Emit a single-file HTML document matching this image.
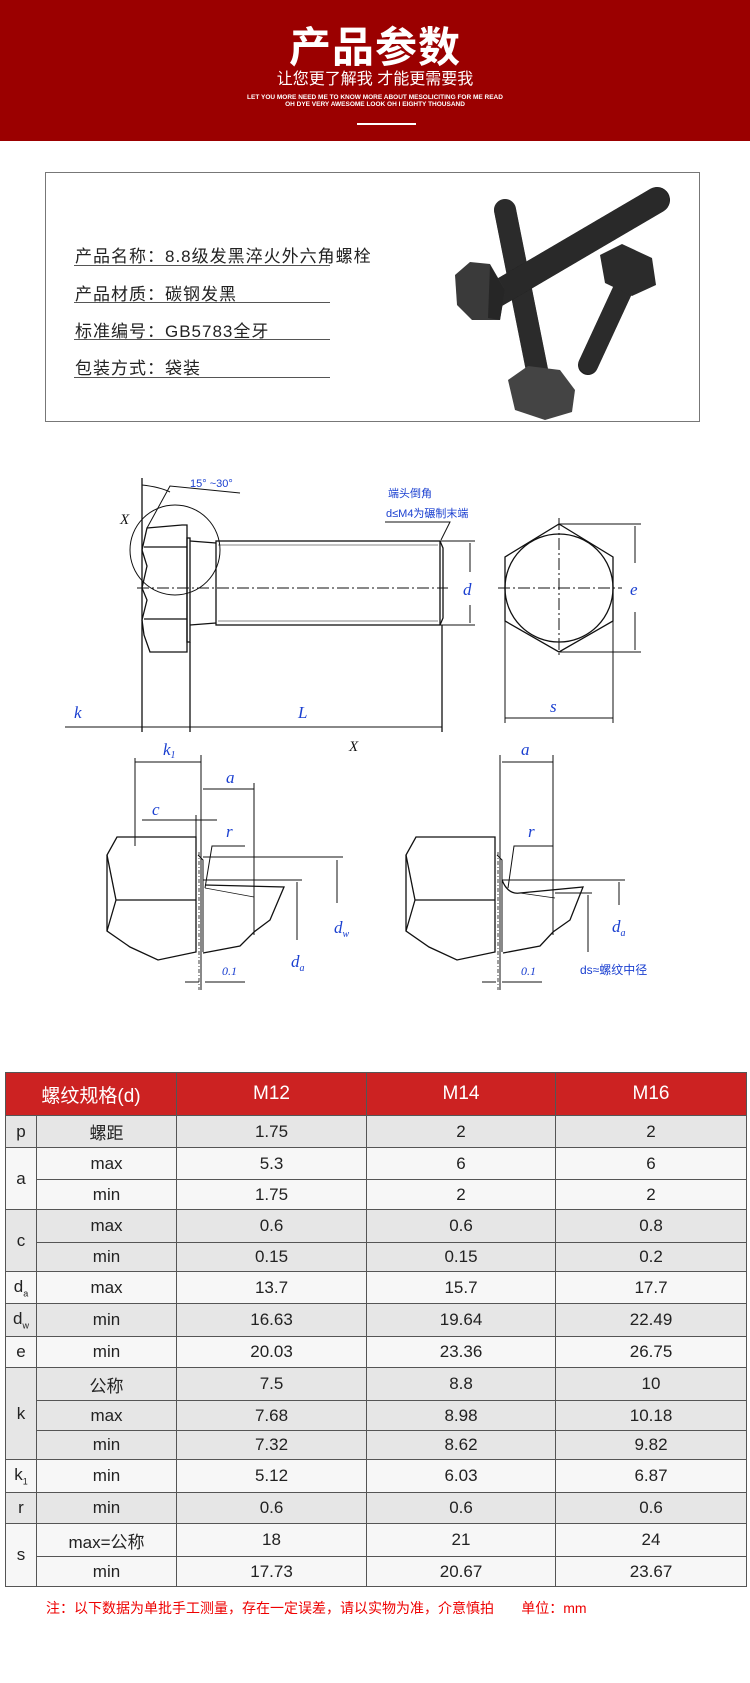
<!DOCTYPE html>
<html><head><meta charset="utf-8">
<style>
*{margin:0;padding:0;box-sizing:border-box}
body{width:750px;height:1683px;background:#fff;position:relative;overflow:hidden;font-family:"Liberation Sans","Noto Sans CJK SC",sans-serif}
.hdr{position:absolute;left:0;top:0;width:750px;height:141px;background:#9b0000;color:#fff;text-align:center}
.t1{position:absolute;left:0;width:750px;top:14px;font-size:42px;font-weight:bold;letter-spacing:1px}
.t2{position:absolute;left:0;width:750px;top:71px;font-size:16px;line-height:18px}
.t3{position:absolute;left:0;width:750px;top:94px;font-size:6.5px;font-weight:bold;line-height:7px}
.bar{position:absolute;left:357px;top:123px;width:59px;height:2px;background:#fff}
.box{position:absolute;left:45px;top:172px;width:655px;height:250px;border:1px solid #777}
.ln{position:absolute;left:75px;font-size:17px;color:#222;letter-spacing:1px}
.ul{position:absolute;left:74px;width:256px;height:1px;background:#555}
table{position:absolute;left:5px;top:1072px;width:741px;border-collapse:collapse;table-layout:fixed;font-family:"Liberation Sans","Noto Sans CJK SC",sans-serif;font-size:17px;color:#222}
td{border:1px solid #555;text-align:center;padding:0;overflow:hidden}
tr.h td{background:#cc2222;color:#fff;font-size:19px}
.g td{background:#e6e6e6}
.w td{background:#f7f7f7}
sub{font-size:9px}
.note{position:absolute;left:46px;top:1598px;font-size:14px;color:#e00}
</style></head><body>
<div class="hdr">
<div class="t1">产品参数</div>
<div class="t2">让您更了解我 才能更需要我</div>
<div class="t3">LET YOU MORE NEED ME TO KNOW MORE ABOUT MESOLICITING FOR ME READ<br>OH DYE VERY AWESOME LOOK OH I EIGHTY THOUSAND</div>
<div class="bar"></div>
</div>
<div class="box"></div>
<div class="ln" style="top:242px">产品名称：8.8级发黑淬火外六角螺栓</div>
<div class="ul" style="top:265px"></div>
<div class="ln" style="top:280px">产品材质：碳钢发黑</div>
<div class="ul" style="top:302px"></div>
<div class="ln" style="top:317px">标准编号：GB5783全牙</div>
<div class="ul" style="top:339px"></div>
<div class="ln" style="top:354px">包装方式：袋装</div>
<div class="ul" style="top:377px"></div>

<svg style="position:absolute;left:0;top:0" width="750" height="1060">
<!-- bolt photo -->
<g stroke-linecap="round" fill="none">
<line x1="505" y1="210" x2="538" y2="375" stroke="#1e1e1e" stroke-width="22"/>
<line x1="505" y1="210" x2="538" y2="375" stroke="#333" stroke-width="22" stroke-dasharray="2,3" opacity=".6"/>
<line x1="625" y1="285" x2="588" y2="365" stroke="#1e1e1e" stroke-width="20"/>
<line x1="625" y1="285" x2="588" y2="365" stroke="#333" stroke-width="20" stroke-dasharray="2,3" opacity=".6"/>
<line x1="495" y1="295" x2="657" y2="200" stroke="#1a1a1a" stroke-width="26"/>
<line x1="495" y1="295" x2="657" y2="200" stroke="#333" stroke-width="26" stroke-dasharray="2,3" opacity=".6"/>
</g>
<polygon points="600,255 622,244 652,258 656,285 632,296 605,283" fill="#2b2b2b"/>
<polygon points="455,275 470,262 490,264 505,290 500,320 472,320 457,305" fill="#3a3a3a"/>
<polygon points="490,265 505,290 500,320 488,318" fill="#262626"/>
<polygon points="508,380 528,366 560,370 575,390 572,412 545,420 515,410" fill="#444"/>
<g fill="none" stroke="#111" stroke-width="1.3">
<!-- main view -->
<line x1="142" y1="478" x2="142" y2="732"/>
<path d="M147,528 L182,525 L187,525 L187,652 L150,652 L144,635 L142,620 L147,600 L142,588 L147,566 L142,550 L147,528Z"/>
<line x1="144" y1="547" x2="187" y2="547"/><line x1="144" y1="619" x2="187" y2="619"/>
<rect x="187" y="538" width="3" height="104"/>
<path d="M190,541 L216,543 M190,625 L216,623"/>
<rect x="216" y="541" width="224" height="84"/>
<line x1="218" y1="545" x2="438" y2="545" stroke-width=".6"/>
<line x1="218" y1="621" x2="438" y2="621" stroke-width=".6"/>
<path d="M440,541 L443,548 L443,618 L440,625"/>
<circle cx="175" cy="550" r="45" stroke-width="1"/>
<path d="M142,485 Q160,487 170,492" stroke-width="1"/>
<path d="M147,528 L170,486 L240,493" stroke-width="1"/>
<line x1="137" y1="588" x2="448" y2="588" stroke-dasharray="12,3,2,3" stroke-width="1"/>
<line x1="65" y1="727" x2="442" y2="727" stroke-width="1"/>
<line x1="190" y1="642" x2="190" y2="732"/>
<line x1="442" y1="625" x2="442" y2="732"/>
<path d="M385,522 L450,522 L441,540" stroke-width="1"/>
<path d="M440,541 L475,541 M440,625 L475,625 M470,543 L470,572 M470,605 L470,623" stroke-width="1"/>
<!-- end view -->
<polygon points="559,524 613,557 613,621 559,652 505,621 505,557"/>
<circle cx="559" cy="588" r="54"/>
<line x1="498" y1="588" x2="622" y2="588" stroke-dasharray="12,3,2,3" stroke-width="1"/>
<line x1="559" y1="518" x2="559" y2="658" stroke-dasharray="12,3,2,3" stroke-width="1"/>
<path d="M559,524 L641,524 M559,652 L641,652 M635,526 L635,563 M635,612 L635,650 M505,621 L505,723 M613,621 L613,723 M505,718 L613,718" stroke-width="1"/>
<!-- detail 1 -->
<path d="M135,758 L135,846 M201,755 L201,990 M135,762 L201,762 M203,789 L254,789 M254,783 L254,935 M142,820 L217,820 M196,815 L196,837" stroke-width="1"/>
<path d="M117,837 L196,837 L196,952 L158,960 L130,947 L107,931 L107,855 Z"/>
<path d="M107,855 L116,900 L196,900 M116,900 L107,931" />
<line x1="199" y1="852" x2="199" y2="990" stroke-dasharray="4,2,1,2" stroke-width=".8"/>
<path d="M198,855 L203,860 L203,952 M203,857 L343,857 M337,903 L337,860 M203,880 L302,880 M297,940 L297,882 M205,888 L212,846 L245,846" stroke-width="1"/>
<path d="M205,885 L284,887 L270,920 L254,932 L240,946 L203,953"/>
<line x1="205" y1="888" x2="254" y2="897" stroke-width=".7"/>
<path d="M185,982 L199,982 M205,982 L245,982" stroke-width="1"/>
<!-- detail 2 -->
<path d="M500,755 L500,990 M553,755 L553,935 M502,762 L553,762 M520,846 L553,846 L514,846 L508,888" stroke-width="1"/>
<path d="M416,837 L495,837 L495,952 L457,960 L429,947 L406,931 L406,855 Z"/>
<path d="M406,855 L415,900 L495,900 M415,900 L406,931"/>
<line x1="498" y1="852" x2="498" y2="990" stroke-dasharray="4,2,1,2" stroke-width=".8"/>
<path d="M497,855 L502,860 L502,952 M502,880 L625,880 M619,905 L619,882 M555,893 L592,893 M588,952 L588,895" stroke-width="1"/>
<path d="M502,880 Q508,895 520,893 L583,887 L570,920 L553,932 L540,946 L503,953"/>
<line x1="520" y1="893" x2="555" y2="898" stroke-width=".7"/>
<path d="M482,982 L496,982 M502,982 L542,982" stroke-width="1"/>
</g>
<g fill="#1a3fd0" font-family="Liberation Serif,serif" font-style="italic" font-size="17">
<text x="74" y="718">k</text><text x="298" y="718">L</text>
<text x="463" y="595">d</text><text x="630" y="595">e</text><text x="550" y="712">s</text>
<text x="163" y="755">k<tspan font-size="10" dy="3">1</tspan></text>
<text x="226" y="783">a</text><text x="152" y="815">c</text><text x="226" y="837">r</text>
<text x="334" y="933">d<tspan font-size="10" dy="4">w</tspan></text>
<text x="291" y="967">d<tspan font-size="10" dy="4">a</tspan></text>
<text x="521" y="755">a</text><text x="528" y="837">r</text>
<text x="612" y="932">d<tspan font-size="10" dy="4">a</tspan></text>
<text x="222" y="975" font-size="12">0.1</text><text x="521" y="975" font-size="12">0.1</text>
</g>
<g fill="#111" font-family="Liberation Serif,serif" font-style="italic" font-size="15">
<text x="120" y="524">X</text><text x="349" y="751">X</text>
</g>
<g fill="#1a3fd0" font-family="Liberation Sans,Noto Sans CJK SC,sans-serif" font-size="11">
<text x="190" y="487">15° ~30°</text>
<text x="388" y="497">端头倒角</text>
<text x="386" y="517">d≤M4为碾制末端</text>
<text x="580" y="974" font-size="12">ds≈螺纹中径</text>
</g>
</svg>

<table>
<colgroup><col style="width:31px"><col style="width:140px"><col style="width:190px"><col style="width:189px"><col style="width:191px"></colgroup>
<tr class="h" style="height:43px"><td colspan="2">螺纹规格(d)</td><td>M12</td><td>M14</td><td>M16</td></tr>
<tr class="g" style="height:32px"><td>p</td><td>螺距</td><td>1.75</td><td>2</td><td>2</td></tr>
<tr class="w" style="height:32px"><td rowspan="2">a</td><td>max</td><td>5.3</td><td>6</td><td>6</td></tr>
<tr class="w" style="height:30px"><td>min</td><td>1.75</td><td>2</td><td>2</td></tr>
<tr class="g" style="height:33px"><td rowspan="2">c</td><td>max</td><td>0.6</td><td>0.6</td><td>0.8</td></tr>
<tr class="g" style="height:29px"><td>min</td><td>0.15</td><td>0.15</td><td>0.2</td></tr>
<tr class="w" style="height:32px"><td>d<sub>a</sub></td><td>max</td><td>13.7</td><td>15.7</td><td>17.7</td></tr>
<tr class="g" style="height:33px"><td>d<sub>w</sub></td><td>min</td><td>16.63</td><td>19.64</td><td>22.49</td></tr>
<tr class="w" style="height:31px"><td>e</td><td>min</td><td>20.03</td><td>23.36</td><td>26.75</td></tr>
<tr class="g" style="height:33px"><td rowspan="3">k</td><td>公称</td><td>7.5</td><td>8.8</td><td>10</td></tr>
<tr class="g" style="height:30px"><td>max</td><td>7.68</td><td>8.98</td><td>10.18</td></tr>
<tr class="g" style="height:29px"><td>min</td><td>7.32</td><td>8.62</td><td>9.82</td></tr>
<tr class="w" style="height:33px"><td>k<sub>1</sub></td><td>min</td><td>5.12</td><td>6.03</td><td>6.87</td></tr>
<tr class="g" style="height:31px"><td>r</td><td>min</td><td>0.6</td><td>0.6</td><td>0.6</td></tr>
<tr class="w" style="height:33px"><td rowspan="2">s</td><td>max=公称</td><td>18</td><td>21</td><td>24</td></tr>
<tr class="w" style="height:30px"><td>min</td><td>17.73</td><td>20.67</td><td>23.67</td></tr>
</table>
<div class="note">注：以下数据为单批手工测量，存在一定误差，请以实物为准，介意慎拍&nbsp;&nbsp;&nbsp;&nbsp;&nbsp;&nbsp;&nbsp;单位：mm</div>
</body></html>
